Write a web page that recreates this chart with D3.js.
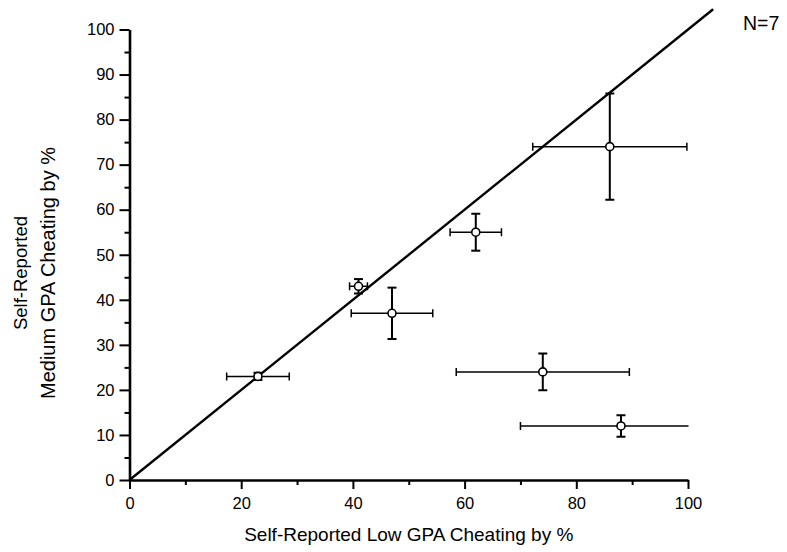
<!DOCTYPE html>
<html>
<head>
<meta charset="utf-8">
<script src="https://cdn.jsdelivr.net/npm/d3@7"></script>
<style>
  html, body { margin: 0; padding: 0; background: #fff; }
  svg { display: block; font-family: "Liberation Sans", Arial, sans-serif; }
</style>
</head>
<body>
<svg id="chart" width="787" height="552"></svg>
<script>
// Self-reported cheating: low GPA (x) vs. medium GPA (y), with error bars
const lowGPA     = [23, 41, 47, 62, 86, 74, 88];
const mediumGPA  = [23, 43, 37, 55, 74, 24, 12];
const lowErr     = [5.6, 1.6, 7.3, 4.6, 13.8, 15.5, 18];
const mediumErr  = [0.8, 1.6, 5.7, 4.1, 11.8, 4.1, 2.4];
const xMajorTicks = [0, 20, 40, 60, 80, 100];
const xMinorTicks = [10, 30, 50, 70, 90];
const yMajorTicks = [0, 10, 20, 30, 40, 50, 60, 70, 80, 90, 100];
const yMinorTicks = [5, 15, 25, 35, 45, 55, 65, 75, 85, 95];
const refLine = [0, 104.5];   // identity line y = x
const sampleNote = "N=7";

const svg = d3.select("#chart");
const x = d3.scaleLinear().domain([0, 100]).range([129.5, 688]);
const y = d3.scaleLinear().domain([0, 100]).range([480, 29.5]);

const points = lowGPA.map((v, i) => ({ x: v, y: mediumGPA[i], ex: lowErr[i], ey: mediumErr[i] }));

// clip region keeps error bars inside the plotting area
svg.append("clipPath").attr("id", "plotClip")
  .append("rect").attr("x", x(0)).attr("y", 0).attr("width", x(100) - x(0) + 0.5).attr("height", y(0));

// axes
svg.append("g").attr("transform", `translate(0,${y(0)})`)
  .call(d3.axisBottom(x).tickValues(xMajorTicks).tickSize(9).tickPadding(8).tickSizeOuter(0));
svg.append("g").attr("transform", `translate(0,${y(0)})`)
  .call(d3.axisBottom(x).tickValues(xMinorTicks).tickSize(5).tickFormat("").tickSizeOuter(0))
  .call(g => g.select(".domain").remove());
svg.append("g").attr("transform", `translate(${x(0)},0)`)
  .call(d3.axisLeft(y).tickValues(yMajorTicks).tickSize(10).tickPadding(5).tickSizeOuter(0));
svg.append("g").attr("transform", `translate(${x(0)},0)`)
  .call(d3.axisLeft(y).tickValues(yMinorTicks).tickSize(5).tickFormat("").tickSizeOuter(0))
  .call(g => g.select(".domain").remove());

svg.selectAll(".domain").attr("stroke", "#000").attr("stroke-width", 2.6);
svg.selectAll(".tick line").attr("stroke", "#000").attr("stroke-width", 2);
svg.selectAll(".tick text").attr("fill", "#000").style("font-size", "16.5px")
  .style("font-family", "'Liberation Sans', Arial, sans-serif");

// axis titles
svg.append("text")
  .attr("x", (x(0) + x(100)) / 2).attr("y", 541)
  .attr("text-anchor", "middle").style("font-size", "19px").attr("fill", "#000")
  .text("Self-Reported Low GPA Cheating by %");
const yTitle = svg.append("text")
  .attr("transform", `translate(0,273) rotate(-90)`)
  .attr("text-anchor", "middle").attr("fill", "#000");
yTitle.append("tspan").attr("x", 0).attr("y", 27).style("font-size", "18.5px").text("Self-Reported");
yTitle.append("tspan").attr("x", 0).attr("y", 55).style("font-size", "20px").text("Medium GPA Cheating by %");

// N note
svg.append("text").attr("x", 743).attr("y", 29.5)
  .style("font-size", "19.5px").attr("fill", "#000").text(sampleNote);

// identity reference line
svg.append("line")
  .attr("x1", x(refLine[0])).attr("y1", y(refLine[0]))
  .attr("x2", x(refLine[1])).attr("y2", y(refLine[1]))
  .attr("stroke", "#000").attr("stroke-width", 2.4);

// error bars
const bars = svg.append("g").attr("clip-path", "url(#plotClip)").attr("stroke", "#000");
const capH = 4, capV = 4.5;
points.forEach(p => {
  const g = bars.append("g");
  // horizontal
  g.append("line").attr("x1", x(p.x - p.ex)).attr("x2", x(p.x + p.ex))
    .attr("y1", y(p.y)).attr("y2", y(p.y)).attr("stroke-width", 1.5);
  [p.x - p.ex, p.x + p.ex].forEach(v => {
    g.append("line").attr("x1", x(v)).attr("x2", x(v))
      .attr("y1", y(p.y) - capH).attr("y2", y(p.y) + capH).attr("stroke-width", 1.5);
  });
  // vertical
  g.append("line").attr("x1", x(p.x)).attr("x2", x(p.x))
    .attr("y1", y(p.y - p.ey)).attr("y2", y(p.y + p.ey)).attr("stroke-width", 2);
  [p.y - p.ey, p.y + p.ey].forEach(v => {
    g.append("line").attr("x1", x(p.x) - capV).attr("x2", x(p.x) + capV)
      .attr("y1", y(v)).attr("y2", y(v)).attr("stroke-width", 2);
  });
});

// markers
svg.append("g").selectAll("circle").data(points).join("circle")
  .attr("cx", d => x(d.x)).attr("cy", d => y(d.y)).attr("r", 4)
  .attr("fill", "#fff").attr("stroke", "#000").attr("stroke-width", 1.6);
</script>
</body>
</html>
